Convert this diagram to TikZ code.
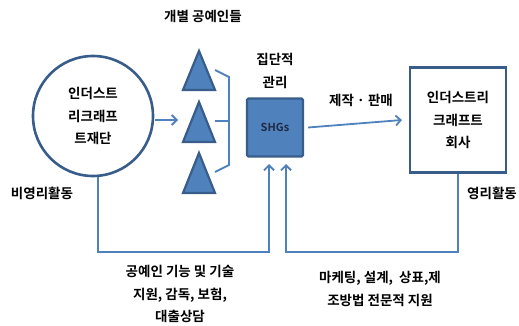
\documentclass[tikz,border=0pt]{standalone}
\usepackage{fontspec}
\setmainfont{Noto Sans CJK KR}[BoldFont={Noto Sans CJK KR Bold}]
\usetikzlibrary{arrows.meta}
\definecolor{fillblue}{HTML}{4F81BD}
\definecolor{edgeblue}{HTML}{385D8A}
\definecolor{txtdark}{HTML}{1F2A44}
\tikzset{
  lbl/.style={font=\fontsize{13.5}{22.5}\selectfont\bfseries, align=center, inner sep=0pt},
  link/.style={draw=fillblue, line width=1.8pt},
  arr/.style={link, -{Straight Barb[length=5pt,width=10pt,line width=1.8pt]}},
  tri/.style={draw=edgeblue, fill=fillblue, line width=2.2pt, line join=miter},
}
\begin{document}
\begin{tikzpicture}[x=1pt,y=-1pt]
\useasboundingbox (0,0) rectangle (519,326);
% circle
\node[circle, draw=edgeblue, line width=2.6pt, minimum size=120pt, inner sep=0pt, lbl] (found) at (93,116) {인더스트\\리크래프\\트재단};
% triangles
\draw[tri] (199,51) -- (215,90) -- (183,90) -- cycle;
\draw[tri] (199,102) -- (215,142) -- (183,142) -- cycle;
\draw[tri] (199,153) -- (215,193) -- (183,193) -- cycle;
\coordinate (t1) at (215,70);
\coordinate (t2) at (215,121);
\coordinate (t3) at (215,172);
\coordinate (mt) at (178,120);
\coordinate (bt) at (229,77);
\coordinate (bb) at (229,165);
\coordinate (bm) at (229,121);
\draw[arr] (155,120) -- (mt);
\draw[link] (t1) -- (bt) -- (bb) -- (t3);
\draw[link] (t2) -- (bm);
% SHGs
\node[draw=edgeblue, fill=fillblue, line width=2.2pt, rounded corners=1.5pt, minimum width=56pt, minimum height=58pt, inner sep=0pt, font=\fontsize{11}{12}\selectfont\bfseries, text=txtdark] (shg) at (275,127.5) {SHGs};
% right box
\node[draw=edgeblue, line width=2.6pt, minimum width=96pt, minimum height=105pt, inner sep=0pt, lbl] (comp) at (458,120) {인더스트리\\크래프트\\회사};
\draw[arr] (shg.east) ++(4pt,0) coordinate (se) -- (comp.west -| 402,0);
% bottom loop lines
\coordinate (l1) at (98,252);
\coordinate (l2) at (269,252);
\coordinate (r1) at (286,252);
\coordinate (r2) at (458,252);
\draw[arr] (found.south -| 98,0) -- (l1) -- (l2) -- (269,164);
\draw[arr] (comp.south) -- (r2) -- (r1) -- (286,164);
% labels
\node[lbl] (indiv) at (203,16) {개별 공예인들};
\node[lbl] (coll) at (275,71) {집단적\\관리};
\node[lbl] (prod) at (361,100) {제작 · 판매};
\node[lbl] (nonp) at (42,193) {비영리활동};
\node[lbl] (prof) at (492,193) {영리활동};
\node[lbl] (sup1) at (180,294) {공예인 기능 및 기술\\지원, 감독, 보험,\\대출상담};
\node[lbl] (sup2) at (380,289) {마케팅, 설계,~ 상표,제\\조방법 전문적 지원};
\end{tikzpicture}
\end{document}
